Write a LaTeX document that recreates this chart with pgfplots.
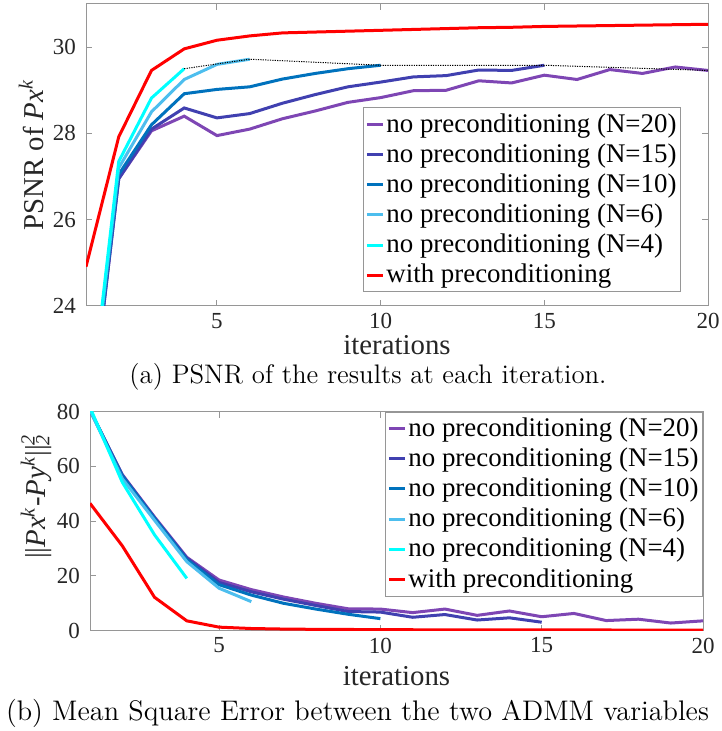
\documentclass[border=0pt]{standalone}
\usepackage{fontspec}
\setmainfont{Liberation Serif}
\usepackage{pgfplots}
\pgfplotsset{compat=1.18}

\definecolor{cN20}{RGB}{126,70,180}
\definecolor{cN15}{RGB}{64,64,176}
\definecolor{cN10}{RGB}{0,114,189}
\definecolor{cN6}{RGB}{77,190,238}
\definecolor{cN4}{RGB}{0,255,255}
\definecolor{axgray}{RGB}{150,150,150}
\definecolor{txt}{RGB}{38,38,38}

\newcommand\capfont{\fontfamily{lmr}\selectfont}

\pgfplotsset{
  mstyle/.style={
    scale only axis,
    xmin=1, xmax=20,
    xtick={5,10,15,20},
    tick align=inside,
    major tick length=3pt,
    axis line style={axgray, line width=0.5pt},
    every tick/.style={axgray, line width=0.5pt},
    tick label style={font=\fontsize{11.5}{12}\selectfont, text=txt},
    yticklabel style={xshift=-1.5pt},
    /pgf/number format/assume math mode=true,
    label style={font=\fontsize{14.4}{15}\selectfont, text=txt},
    legend cell align=left,
    legend style={draw=axgray, line width=0.5pt, font=\fontsize{13.45}{14}\selectfont,
      inner xsep=1pt, inner ysep=1pt, row sep=0.2pt, nodes={inner xsep=1pt}, text=black},
    legend image code/.code={\draw[#1] (0pt,0pt) -- (8pt,0pt);},
    every axis plot/.append style={line width=1.5pt},
  }
}

\begin{document}
\begin{tikzpicture}
\useasboundingbox (0,0) rectangle (360.5pt,-365.5pt);

% (a) PSNR
\begin{axis}[mstyle,
    at={(43pt,-153pt)}, anchor=south west,
    width=311pt, height=151pt,
    ymin=24, ymax=31,
    ytick={24,26,28,30},
    xlabel={iterations},
    xlabel style={at={(axis description cs:0.5,-0.162)}, anchor=base},
    ylabel={PSNR of \textit{Px}\textsuperscript{\textit{k}}},
    ylabel style={at={(axis description cs:-0.069,0.5)}, anchor=base},
    legend style={at={(0.9566,0.045)}, anchor=south east},
]
\addplot[cN20] coordinates {
 (1,20.5) (2,26.95) (3,28.06) (4,28.40) (5,27.95) (6,28.10) (7,28.34) (8,28.52)
 (9,28.72) (10,28.83) (11,28.99) (12,29.00) (13,29.22) (14,29.17) (15,29.35)
 (16,29.25) (17,29.48) (18,29.39) (19,29.54) (20,29.46)};
\addlegendentry{no preconditioning (N=20)}
\addplot[cN15] coordinates {
 (1,20.5) (2,26.95) (3,28.10) (4,28.59) (5,28.36) (6,28.46) (7,28.70) (8,28.90)
 (9,29.08) (10,29.19) (11,29.31) (12,29.34) (13,29.47) (14,29.46) (15,29.58)};
\addlegendentry{no preconditioning (N=15)}
\addplot[cN10] coordinates {
 (1,20.6) (2,27.05) (3,28.20) (4,28.92) (5,29.02) (6,29.08) (7,29.26) (8,29.39)
 (9,29.50) (10,29.58)};
\addlegendentry{no preconditioning (N=10)}
\addplot[cN6] coordinates {
 (1,20.7) (2,27.20) (3,28.50) (4,29.25) (5,29.60) (6,29.72)};
\addlegendentry{no preconditioning (N=6)}
\addplot[cN4] coordinates {
 (1,20.8) (2,27.35) (3,28.82) (4,29.50)};
\addlegendentry{no preconditioning (N=4)}
\addplot[red] coordinates {
 (1,24.91) (2,27.92) (3,29.46) (4,29.96) (5,30.16) (6,30.26) (7,30.33) (8,30.35)
 (9,30.37) (10,30.39) (11,30.41) (12,30.43) (13,30.45) (14,30.46) (15,30.48)
 (16,30.49) (17,30.50) (18,30.51) (19,30.52) (20,30.53)};
\addlegendentry{with preconditioning}
\addplot[black, line width=0.5pt, dash pattern=on 0.6pt off 0.6pt, forget plot] coordinates {
 (4,29.50) (6,29.72) (10,29.58) (15,29.58) (20,29.46)};
\end{axis}

% (b) MSE
\begin{axis}[mstyle,
    at={(45pt,-315.35pt)}, anchor=south west,
    width=306.5pt, height=109.6pt,
    ymin=0, ymax=80,
    ytick={0,20,40,60,80},
    xlabel={iterations},
    xlabel style={at={(axis description cs:0.5,-0.248)}, anchor=base},
    ylabel={||\textit{Px}\textsuperscript{\textit{k}}-\textit{Py}\textsuperscript{\textit{k}}||\textsubscript{\textit{2}}\llap{\textsuperscript{\textit{2}}}},
    ylabel style={at={(axis description cs:-0.0734,0.612)}, anchor=base},
    legend style={at={(1,1)}, anchor=north east},
]
\addplot[cN20] coordinates {
 (1,80.5) (2,57.0) (3,41.5) (4,26.8) (5,18.5) (6,15.0) (7,12.3) (8,10.0)
 (9,8.0) (10,7.9) (11,6.6) (12,7.9) (13,5.6) (14,7.2) (15,5.1)
 (16,6.3) (17,3.7) (18,4.2) (19,2.8) (20,3.6)};
\addlegendentry{no preconditioning (N=20)}
\addplot[cN15] coordinates {
 (1,80.5) (2,56.8) (3,41.2) (4,26.5) (5,17.6) (6,14.2) (7,11.5) (8,9.2)
 (9,7.0) (10,6.8) (11,4.9) (12,5.9) (13,3.9) (14,4.7) (15,3.1)};
\addlegendentry{no preconditioning (N=15)}
\addplot[cN10] coordinates {
 (1,80.5) (2,56.5) (3,41.0) (4,26.0) (5,16.8) (6,13.0) (7,10.0) (8,7.9)
 (9,6.0) (10,4.4)};
\addlegendentry{no preconditioning (N=10)}
\addplot[cN6] coordinates {
 (1,80.5) (2,55.5) (3,40.3) (4,25.2) (5,15.5) (6,10.6)};
\addlegendentry{no preconditioning (N=6)}
\addplot[cN4] coordinates {
 (1,81.5) (2,54.2) (3,35.0) (4,19.1)};
\addlegendentry{no preconditioning (N=4)}
\addplot[red] coordinates {
 (1,46.5) (2,31.0) (3,12.2) (4,3.6) (5,1.3) (6,0.8) (7,0.6) (8,0.5)
 (9,0.45) (10,0.4) (11,0.35) (12,0.33) (13,0.3) (14,0.3) (15,0.28)
 (16,0.27) (17,0.26) (18,0.25) (19,0.25) (20,0.24)};
\addlegendentry{with preconditioning}
\end{axis}

\node[anchor=base, font=\capfont\fontsize{13.4}{15}\selectfont] at (184pt,-191.65pt)
  {(a) PSNR of the results at each iteration.};
\node[anchor=base, font=\capfont\fontsize{14.15}{15}\selectfont] at (178.75pt,-360.35pt)
  {(b) Mean Square Error between the two ADMM variables};
\end{tikzpicture}
\end{document}
